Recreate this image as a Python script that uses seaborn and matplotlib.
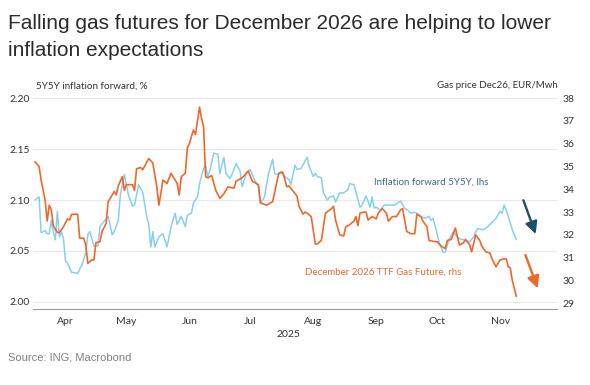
import matplotlib
matplotlib.use("Agg")
import matplotlib.pyplot as plt
import matplotlib.dates as mdates
import seaborn as sns
import pandas as pd

# ---- data ----
gas_dates = ["2025-04-01","2025-04-03","2025-04-04","2025-04-06","2025-04-07","2025-04-08","2025-04-09","2025-04-10",
             "2025-04-12","2025-04-13","2025-04-15","2025-04-17","2025-04-18","2025-04-19","2025-04-22","2025-04-23",
             "2025-04-25","2025-04-26","2025-04-27","2025-04-29","2025-04-30","2025-05-01","2025-05-03","2025-05-04",
             "2025-05-06","2025-05-07","2025-05-08","2025-05-10","2025-05-11","2025-05-12","2025-05-14","2025-05-15",
             "2025-05-16","2025-05-19","2025-05-20","2025-05-21","2025-05-23","2025-05-24","2025-05-27","2025-05-29",
             "2025-05-31","2025-06-01","2025-06-03","2025-06-05","2025-06-07","2025-06-08","2025-06-10","2025-06-11",
             "2025-06-12","2025-06-14","2025-06-15","2025-06-16","2025-06-18","2025-06-19","2025-06-21","2025-06-22",
             "2025-06-23","2025-06-24","2025-06-25","2025-06-27","2025-06-29","2025-07-01","2025-07-03","2025-07-05",
             "2025-07-08","2025-07-09","2025-07-12","2025-07-15","2025-07-17","2025-07-20","2025-07-21","2025-07-24",
             "2025-07-27","2025-07-30","2025-08-01","2025-08-03","2025-08-04","2025-08-08","2025-08-09","2025-08-11",
             "2025-08-12","2025-08-13","2025-08-15","2025-08-17","2025-08-18","2025-08-20","2025-08-22","2025-08-25",
             "2025-08-26","2025-08-27","2025-08-29","2025-08-31","2025-09-01","2025-09-03","2025-09-05","2025-09-06",
             "2025-09-07","2025-09-08","2025-09-10","2025-09-11","2025-09-12","2025-09-14","2025-09-16","2025-09-17",
             "2025-09-19","2025-09-21","2025-09-22","2025-09-24","2025-09-26","2025-09-28","2025-09-29","2025-10-01",
             "2025-10-03","2025-10-05","2025-10-06","2025-10-08","2025-10-09","2025-10-11","2025-10-12","2025-10-15",
             "2025-10-16","2025-10-18","2025-10-20","2025-10-21","2025-10-23","2025-10-25","2025-10-26","2025-10-27",
             "2025-10-29","2025-10-30","2025-11-01","2025-11-02","2025-11-04","2025-11-06","2025-11-07","2025-11-09",
             "2025-11-11","2025-11-12","2025-11-14","2025-11-16","2025-11-18","2025-11-19","2025-11-20","2025-11-21",
             "2025-11-22","2025-11-23","2025-11-24"]
gas_values = [35.2,35.0,34.4,33.5,32.6,33.3,33.1,32.4,
              32.1,32.1,32.35,32.7,32.65,32.9,32.9,31.85,
              31.85,31.55,30.75,30.9,30.9,31.65,31.7,32.15,
              32.5,33.45,33.6,33.9,33.75,34.15,34.55,33.95,
              34.2,34.2,33.95,34.9,34.95,34.85,35.35,35.15,
              34.1,33.3,34.4,34.25,34.7,34.55,34.25,33.75,
              34.55,34.7,35.8,36.0,36.6,36.4,37.6,37.1,
              36.75,34.55,34.5,34.6,33.95,33.6,33.8,34.1,
              34.05,34.35,34.5,34.8,34.35,34.2,33.4,33.3,
              33.45,34.7,34.75,34.1,34.15,33.7,33.25,32.9,
              33.0,32.95,32.8,31.6,31.6,31.75,32.95,33.15,
              33.25,32.65,32.0,31.95,32.35,32.45,32.6,32.8,
              32.4,32.95,33.0,33.0,32.65,32.8,32.7,32.95,
              33.15,32.95,32.6,32.8,32.8,33.1,33.15,32.15,
              32.05,32.05,32.9,32.8,32.6,32.35,31.75,31.7,
              31.7,31.5,31.4,31.75,31.8,32.3,31.9,31.55,
              31.65,31.8,31.55,31.25,32.0,31.75,31.5,31.25,
              31.2,30.95,30.6,30.9,30.95,30.95,30.6,30.55,
              30.0,29.65,29.3]

infl_dates = ["2025-04-01","2025-04-03","2025-04-04","2025-04-06","2025-04-07","2025-04-08","2025-04-09","2025-04-10",
              "2025-04-11","2025-04-12","2025-04-13","2025-04-14","2025-04-15","2025-04-16","2025-04-17","2025-04-19",
              "2025-04-20","2025-04-22","2025-04-24","2025-04-26","2025-04-27","2025-04-28","2025-04-30","2025-05-02",
              "2025-05-03","2025-05-05","2025-05-07","2025-05-09","2025-05-10","2025-05-12","2025-05-13","2025-05-15",
              "2025-05-17","2025-05-19","2025-05-20","2025-05-22","2025-05-24","2025-05-26","2025-05-27","2025-05-28",
              "2025-05-29","2025-05-30","2025-06-01","2025-06-03","2025-06-05","2025-06-07","2025-06-09","2025-06-10",
              "2025-06-12","2025-06-14","2025-06-15","2025-06-17","2025-06-18","2025-06-20","2025-06-21","2025-06-23",
              "2025-06-24","2025-06-25","2025-06-26","2025-06-28","2025-06-30","2025-07-01","2025-07-03","2025-07-04",
              "2025-07-06","2025-07-08","2025-07-09","2025-07-11","2025-07-12","2025-07-14","2025-07-16","2025-07-18",
              "2025-07-20","2025-07-21","2025-07-23","2025-07-25","2025-07-27","2025-07-28","2025-07-30","2025-07-31",
              "2025-08-02","2025-08-04","2025-08-05","2025-08-07","2025-08-08","2025-08-10","2025-08-13","2025-08-14",
              "2025-08-16","2025-08-17","2025-08-18","2025-08-20","2025-08-21","2025-08-23","2025-08-24","2025-08-26",
              "2025-08-27","2025-08-29","2025-08-31","2025-09-02","2025-09-03","2025-09-05","2025-09-06","2025-09-08",
              "2025-09-09","2025-09-11","2025-09-13","2025-09-14","2025-09-15","2025-09-16","2025-09-18","2025-09-20",
              "2025-09-23","2025-09-25","2025-09-28","2025-09-30","2025-10-02","2025-10-03","2025-10-05","2025-10-06",
              "2025-10-08","2025-10-10","2025-10-12","2025-10-13","2025-10-14","2025-10-16","2025-10-17","2025-10-19",
              "2025-10-20","2025-10-22","2025-10-24","2025-10-25","2025-10-27","2025-10-29","2025-11-01","2025-11-03",
              "2025-11-04","2025-11-05","2025-11-07","2025-11-08","2025-11-10","2025-11-12","2025-11-14","2025-11-16",
              "2025-11-17","2025-11-18","2025-11-19","2025-11-20","2025-11-22","2025-11-24"]
infl_values = [2.100,2.103,2.068,2.070,2.067,2.067,2.080,2.069,
               2.061,2.089,2.064,2.069,2.062,2.040,2.038,2.029,
               2.029,2.028,2.036,2.048,2.066,2.069,2.055,2.055,
               2.074,2.079,2.084,2.066,2.069,2.080,2.105,2.125,
               2.105,2.094,2.095,2.115,2.108,2.084,2.076,2.054,
               2.069,2.054,2.064,2.067,2.054,2.074,2.087,2.076,
               2.084,2.074,2.085,2.087,2.097,2.103,2.116,2.131,
               2.134,2.123,2.128,2.146,2.145,2.126,2.142,2.126,
               2.121,2.130,2.136,2.128,2.113,2.126,2.130,2.120,
               2.113,2.097,2.103,2.126,2.140,2.126,2.125,2.128,
               2.123,2.120,2.115,2.134,2.130,2.131,2.142,2.133,
               2.123,2.126,2.123,2.122,2.107,2.100,2.103,2.104,
               2.098,2.107,2.107,2.110,2.116,2.115,2.108,2.093,
               2.095,2.104,2.093,2.103,2.092,2.093,2.090,2.095,
               2.095,2.095,2.099,2.092,2.089,2.087,2.088,2.087,
               2.084,2.082,2.084,2.080,2.082,2.067,2.058,2.049,
               2.049,2.062,2.069,2.066,2.062,2.061,2.059,2.064,
               2.069,2.072,2.071,2.071,2.074,2.078,2.082,2.089,
               2.087,2.095,2.090,2.084,2.071,2.061]

left_ticks = [2.00, 2.05, 2.10, 2.15, 2.20]
right_ticks = [29, 30, 31, 32, 33, 34, 35, 36, 37, 38]

title = "Falling gas futures for December 2026 are helping to lower\ninflation expectations"
left_title = "5Y5Y inflation forward, %"
right_title = "Gas price Dec26, EUR/Mwh"
infl_label = "Inflation forward 5Y5Y, lhs"
gas_label = "December 2026 TTF Gas Future, rhs"
source = "Source: ING, Macrobond"

# ---- styling ----
sns.set_theme(style="white")
plt.rcParams["font.family"] = ["Lato", "DejaVu Sans"]

BLUE = "#86d0ef"
ORANGE = "#f0672a"
DARKBLUE = "#1d4f66"
LABELBLUE = "#3a6b82"
TXT = "#333333"

df_gas = pd.DataFrame({"date": pd.to_datetime(gas_dates), "value": gas_values})
df_infl = pd.DataFrame({"date": pd.to_datetime(infl_dates), "value": infl_values})

fig = plt.figure(figsize=(5.9, 3.85), dpi=100)
ax = fig.add_axes([0.0559, 0.1974, 0.8881, 0.5532])
ax2 = ax.twinx()

sns.lineplot(data=df_infl, x="date", y="value", ax=ax, color=BLUE, linewidth=1.1, zorder=3)
sns.lineplot(data=df_gas, x="date", y="value", ax=ax2, color=ORANGE, linewidth=1.2, zorder=3)

ax.set_ylim(1.9931, 2.202)
ax2.set_ylim(28.746, 38.088)
ax.set_xlim(pd.Timestamp("2025-03-31"), pd.Timestamp("2025-12-14"))

ax.set_yticks(left_ticks)
ax.set_yticklabels([f"{v:.2f}" for v in left_ticks])
ax2.set_yticks(right_ticks)
ax2.set_yticklabels([str(v) for v in right_ticks])
ax.grid(axis="y", color="#e8e8e8", linewidth=0.8)
ax.set_axisbelow(True)

for a in (ax, ax2):
    a.set_xlabel("")
    a.set_ylabel("")
    for s in ("top", "left", "right"):
        a.spines[s].set_visible(False)
ax.spines["bottom"].set_color("#9a9a9a")
ax.spines["bottom"].set_linewidth(0.8)
ax2.spines["bottom"].set_visible(False)

ax.tick_params(axis="y", length=0, pad=2, labelsize=7.5, labelcolor=TXT)
ax2.tick_params(axis="y", length=0, pad=4, labelsize=7.5, labelcolor=TXT)

ax.xaxis.set_major_locator(mdates.MonthLocator(bymonthday=1))
ax.xaxis.set_major_formatter(plt.NullFormatter())
ax.xaxis.set_minor_locator(mdates.MonthLocator(bymonth=range(4, 12), bymonthday=16))
ax.xaxis.set_minor_formatter(mdates.DateFormatter("%b"))
ax.tick_params(axis="x", which="major", length=3, width=0.6, color="#bbbbbb", direction="inout")
ax.tick_params(axis="x", which="minor", length=0, pad=6, labelsize=7.5, labelcolor=TXT)

# year label
ax.text(0.487, -0.1, "2025", transform=ax.transAxes, ha="center", va="top", fontsize=7.5, color=TXT)

# axis titles
fig.text(36 / 590, 1 - 86 / 385, left_title, ha="left", va="center", fontsize=7.1, color=TXT)
fig.text(558 / 590, 1 - 86 / 385, right_title, ha="right", va="center", fontsize=7.0, color=TXT)

# series annotations
ax2.text(pd.Timestamp("2025-09-15"), 34.33, infl_label, ha="left", va="center", fontsize=7.0, color=LABELBLUE)
ax2.text(pd.Timestamp("2025-08-12"), 30.37, gas_label, ha="left", va="center", fontsize=7.0, color=ORANGE)

# arrows
ax2.annotate("", xy=(pd.Timestamp("2025-12-04"), 31.92), xytext=(pd.Timestamp("2025-11-27"), 33.63),
             arrowprops=dict(arrowstyle="-|>,head_length=0.6,head_width=0.3", color=DARKBLUE, lw=1.7))
ax2.annotate("", xy=(pd.Timestamp("2025-12-05"), 29.54), xytext=(pd.Timestamp("2025-11-28"), 31.23),
             arrowprops=dict(arrowstyle="-|>,head_length=0.6,head_width=0.3", color=ORANGE, lw=1.7))

# title and source
fig.text(8 / 590, 1 - 14 / 385, title, ha="left", va="top", fontsize=15, color="#2b2b2b",
         family=["Liberation Sans", "DejaVu Sans"], linespacing=1.55)
fig.text(8 / 590, 1 - 357 / 385, source, ha="left", va="center", fontsize=8.0, color="#808080",
         family=["Liberation Sans", "DejaVu Sans"])

fig.savefig("out.png", dpi=100)
